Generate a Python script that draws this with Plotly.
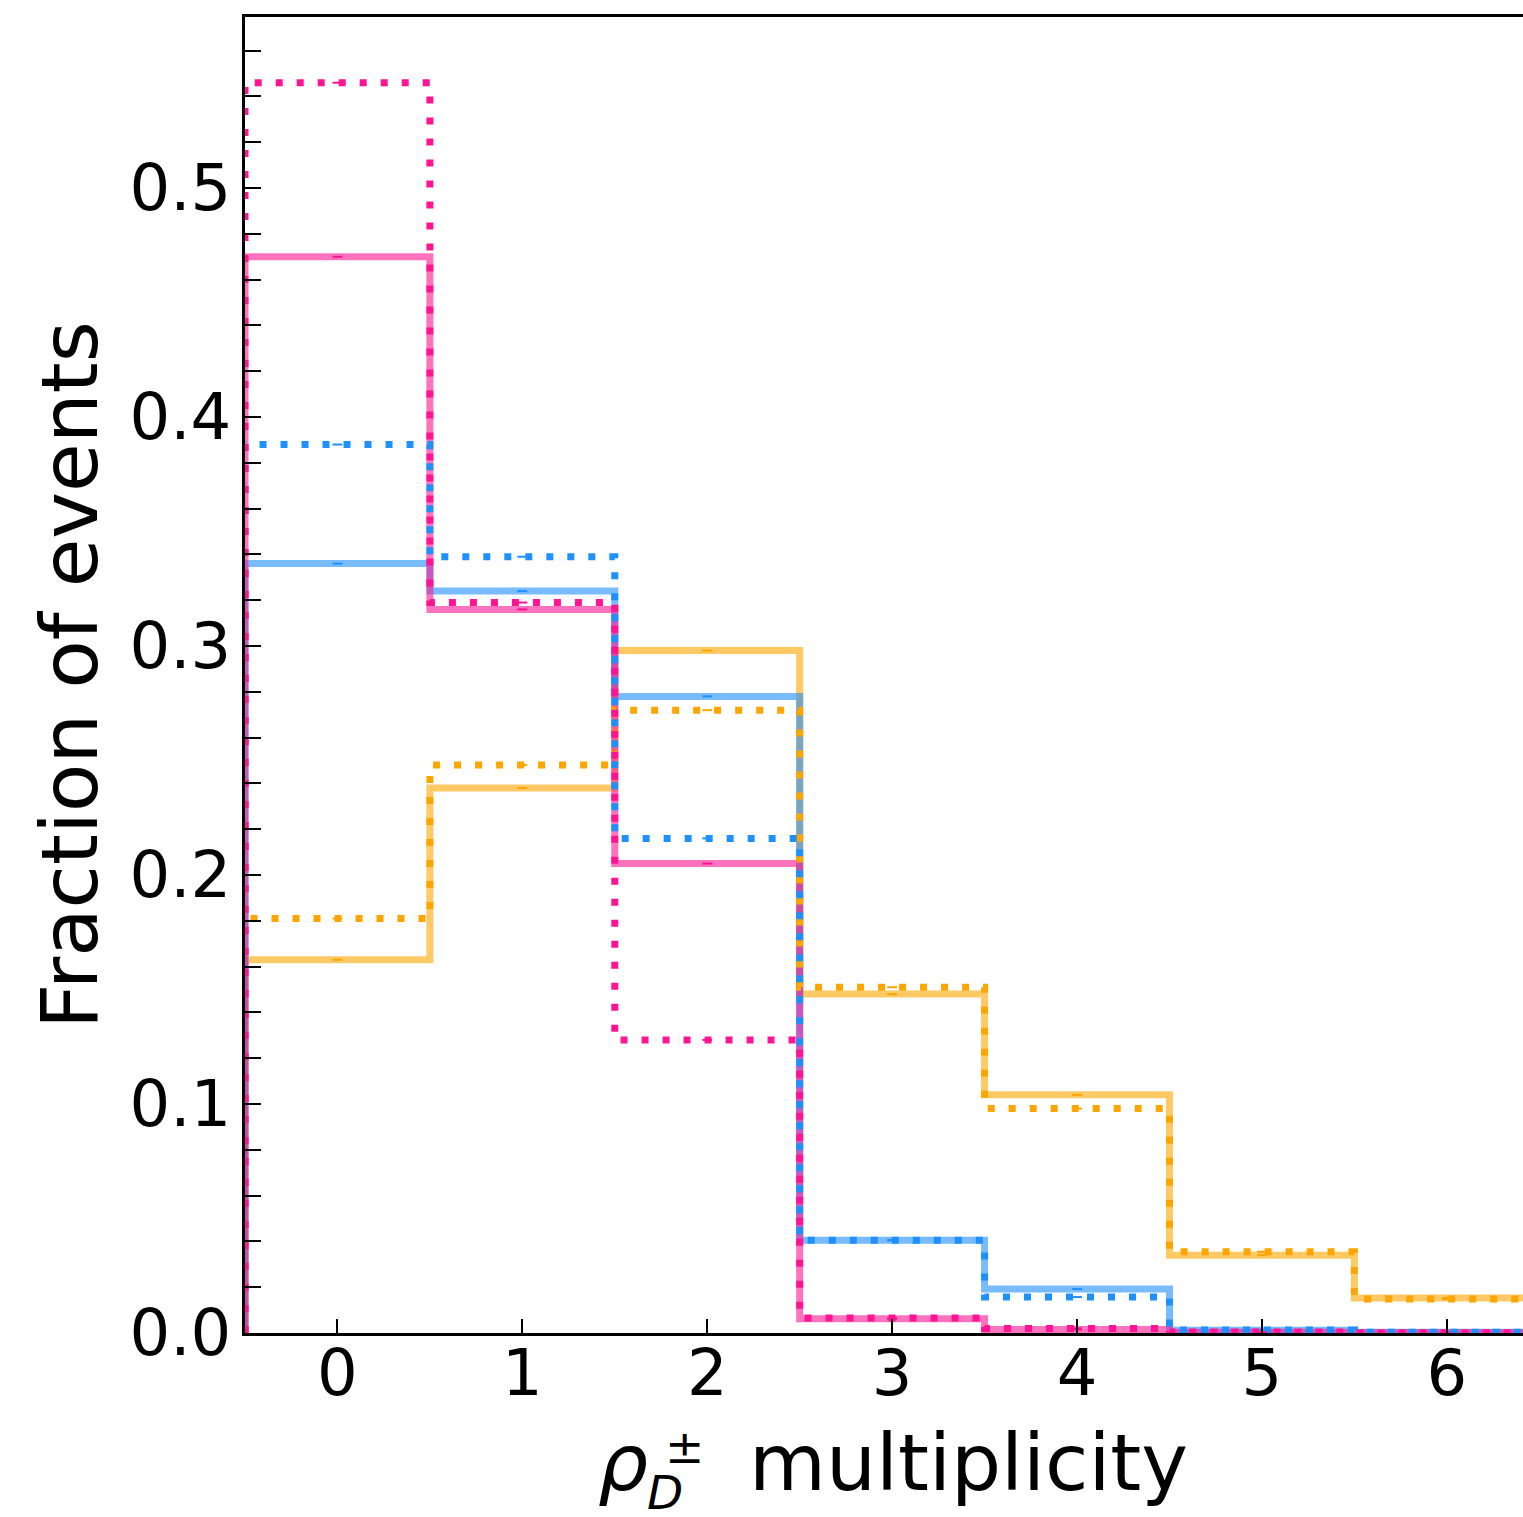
import plotly.graph_objects as go

# Bin centres and edges of the multiplicity histogram
bin_centers = [0, 1, 2, 3, 4, 5, 6]
bin_edges = [-0.5, 0.5, 1.5, 2.5, 3.5, 4.5, 5.5, 6.5]

# Fractions of events per bin (solid = nominal, dotted = variation)
orange_solid = [0.163, 0.238, 0.298, 0.148, 0.104, 0.034, 0.0153]
orange_dotted = [0.181, 0.248, 0.272, 0.151, 0.098, 0.0355, 0.0148]
blue_solid = [0.336, 0.324, 0.278, 0.0405, 0.0192, 0.0012, 0.0003]
blue_dotted = [0.388, 0.339, 0.216, 0.0405, 0.0157, 0.0013, 0.0003]
pink_solid = [0.470, 0.316, 0.205, 0.0062, 0.0015, 0.0003, 0.0001]
pink_dotted = [0.546, 0.319, 0.128, 0.0066, 0.0020, 0.0004, 0.0001]

y_ticks = [0.0, 0.1, 0.2, 0.3, 0.4, 0.5]
y_tick_text = ["0.0", "0.1", "0.2", "0.3", "0.4", "0.5"]
x_ticks = [0, 1, 2, 3, 4, 5, 6]

ORANGE = "255,165,0"
BLUE = "30,144,255"
PINK = "255,20,147"

series = [
    (orange_solid, ORANGE, "solid"),
    (blue_solid, BLUE, "solid"),
    (pink_solid, PINK, "solid"),
    (orange_dotted, ORANGE, "dot"),
    (blue_dotted, BLUE, "dot"),
    (pink_dotted, PINK, "dot"),
]

fig = go.Figure()

for values, rgb, style in series:
    # step outline: rise from zero at the first edge, then one level per bin
    xs = [bin_edges[0]] + bin_edges
    ys = [0.0] + list(values) + [values[-1]]
    if style == "solid":
        line = dict(color=f"rgba({rgb},0.6)", width=7, shape="hv")
    else:
        line = dict(color=f"rgb({rgb})", width=7, shape="hv", dash="7px,14px")
    fig.add_trace(go.Scatter(x=xs, y=ys, mode="lines", line=line,
                             hoverinfo="skip", showlegend=False))
    # small statistical-uncertainty marks at the bin centres
    fig.add_trace(go.Scatter(
        x=bin_centers, y=values, mode="markers",
        marker=dict(symbol="line-ew", size=7,
                    line=dict(color=f"rgb({rgb})", width=2)),
        hoverinfo="skip", showlegend=False))

font_family = "DejaVu Sans"
TICK_SIZE = 64
LABEL_SIZE = 79
SCRIPT_SIZE = 47

fig.update_layout(
    width=1523, height=1517,
    margin=dict(l=245, r=0, t=17, b=184),
    paper_bgcolor="white", plot_bgcolor="white",
    font=dict(family=font_family, color="black"),
    xaxis=dict(
        range=[-0.5, 6.412],
        tickmode="array", tickvals=x_ticks,
        ticks="inside", ticklen=14, tickwidth=2, tickcolor="black",
        tickfont=dict(size=TICK_SIZE, family=font_family),
        ticklabelstandoff=-18,
        showline=True, linecolor="black", linewidth=3, mirror=True,
        showgrid=False, zeroline=False,
    ),
    yaxis=dict(
        range=[0, 0.5747],
        tickmode="array", tickvals=y_ticks, ticktext=y_tick_text,
        ticks="inside", ticklen=16, tickwidth=2, tickcolor="black",
        tickfont=dict(size=TICK_SIZE, family=font_family),
        ticklabelstandoff=-2,
        minor=dict(dtick=0.02, tick0=0, ticks="inside", ticklen=16,
                   tickwidth=2, tickcolor="black", showgrid=False),
        showline=True, linecolor="black", linewidth=3, mirror=False,
        showgrid=False, zeroline=False,
    ),
)

# Axis titles (the x title is assembled from pieces so that the
# subscript and superscript of rho can sit above one another)
PLOT_L, PLOT_W = 245, 1278
PLOT_B, PLOT_H = 1333, 1316


def px(x):
    return (x - PLOT_L) / PLOT_W


def py(y):
    return (PLOT_B - y) / PLOT_H


title_parts = [
    ("<i>ρ</i>", 597, 1463, LABEL_SIZE),
    ("<i>D</i>", 646, 1492, SCRIPT_SIZE),
    ("±", 664, 1446, SCRIPT_SIZE),
    ("multiplicity", 748, 1463, LABEL_SIZE),
]
for text, x, y, size in title_parts:
    fig.add_annotation(text=text, xref="paper", yref="paper",
                       x=px(x), y=py(y), xanchor="left", yanchor="middle",
                       showarrow=False, borderpad=0,
                       font=dict(size=size, family=font_family, color="black"))

fig.add_annotation(text="Fraction of events", xref="paper", yref="paper",
                   x=px(70), y=0.5, xanchor="center", yanchor="middle",
                   textangle=-90, showarrow=False,
                   font=dict(size=LABEL_SIZE, family=font_family, color="black"))

fig.write_html("out.html")
